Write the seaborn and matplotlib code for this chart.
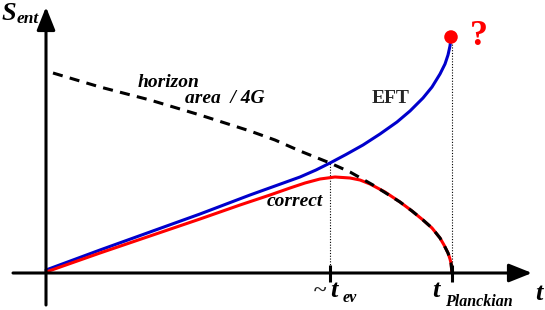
import matplotlib
matplotlib.use("Agg")
import matplotlib.pyplot as plt
import seaborn as sns

# =============================================================================
# Data (t and S in arbitrary units, origin at the axes)
# =============================================================================

t_ev = 284
t_planck = 406

eft_t = [0, 54, 104, 154, 204, 254, 270, 284, 300, 317, 334, 351, 364, 377, 386, 394, 399, 402, 404, 405]
eft_s = [3, 23, 41, 59, 78, 96, 103, 110, 118.5, 128, 139, 151, 162, 175, 186, 199, 209, 218, 227, 236]

correct_t = [0, 54, 104, 154, 194, 224, 244, 259, 274, 289, 304, 314, 324, 339, 354, 366, 377,
             386, 394, 398, 402, 404, 405, 406]
correct_s = [1, 20, 37, 54, 68, 78, 85, 90, 94, 96, 95, 93, 89, 81, 71, 62, 53,
             45, 35, 28, 20, 14, 10, 0]

area_t = [7, 54, 104, 154, 204, 229, 254, 284, 304, 327, 354, 366, 377, 386, 394, 398, 402, 404, 405, 406]
area_s = [200, 186, 173, 158, 142, 133, 122, 110, 101, 88, 71, 62, 53, 45, 35, 28, 20, 14, 10, 0]

endpoint_t = [405]
endpoint_s = [236]

# =============================================================================
# Figure
# =============================================================================

sns.set_style("white")
plt.rcParams["font.family"] = ["Liberation Serif", "DejaVu Serif"]

fig = plt.figure(figsize=(5.45, 3.10), dpi=100)
ax = fig.add_axes([0, 0, 1, 1])
ax.set_xlim(-46, 499)
ax.set_ylim(-37, 273)
ax.axis("off")

# guide lines
ax.plot([t_ev, t_ev], [0, 110], color="black", lw=0.8, linestyle=(0, (1, 1.5)))
ax.plot([t_planck, t_planck], [0, 236], color="black", lw=0.8, linestyle=(0, (1, 1.5)))

# curves
sns.lineplot(x=eft_t, y=eft_s, sort=False, estimator=None, color="#0000cc", lw=2.2, ax=ax)
sns.lineplot(x=correct_t, y=correct_s, sort=False, estimator=None, color="#ff0000", lw=2.2, ax=ax)
sns.lineplot(x=area_t, y=area_s, sort=False, estimator=None, color="black", lw=2.2, ax=ax)
ax.lines[-1].set_dashes((3.3, 2.4))

sns.scatterplot(x=endpoint_t, y=endpoint_s, color="#ff0000", s=95, edgecolor="none", zorder=5, ax=ax)

# axes with arrows
arrow = dict(arrowstyle="-|>,head_length=0.7,head_width=0.28", lw=2.2, color="black",
             shrinkA=0, shrinkB=0, mutation_scale=20)
ax.annotate("", xy=(0, 266), xytext=(0, -32), arrowprops=arrow)
ax.annotate("", xy=(486, 0), xytext=(-33, 0), arrowprops=arrow)

# ticks on the t axis
for tt in [t_ev, t_planck]:
    ax.plot([tt, tt], [-9, 8], color="black", lw=2.2, solid_capstyle="butt")

# =============================================================================
# Labels
# =============================================================================

bi = dict(fontweight="bold", fontstyle="italic", color="black")

ax.text(-44, 253, "S", fontsize=19, ha="left", va="baseline", **bi)
ax.text(-29, 250, "ent", fontsize=12.5, ha="left", va="baseline", **bi)

ax.text(489, -27, "t", fontsize=19, ha="left", va="baseline", **bi)

ax.text(274, -19, "~", fontsize=17, ha="center", va="center", fontweight="bold")
ax.text(284, -24, "t", fontsize=19, ha="left", va="baseline", **bi)
ax.text(297, -29, "ev", fontsize=11.5, ha="left", va="baseline", **bi)

ax.text(386, -24, "t", fontsize=19, ha="left", va="baseline", **bi)
ax.text(399, -33, "Planckian", fontsize=11.5, ha="left", va="baseline", **bi)

ax.text(92, 186, "horizon", fontsize=14, ha="left", va="baseline", **bi)
ax.text(139, 170, "area  / 4G", fontsize=14, ha="left", va="baseline", **bi)
ax.text(326, 170, "EFT", fontsize=14, ha="left", va="baseline", fontweight="bold")
ax.text(221, 67, "correct", fontsize=14, ha="left", va="baseline", **bi)

ax.text(433, 228, "?", fontsize=26, ha="center", va="baseline", fontweight="bold", color="#ff0000")

fig.savefig("out.png", dpi=100)
